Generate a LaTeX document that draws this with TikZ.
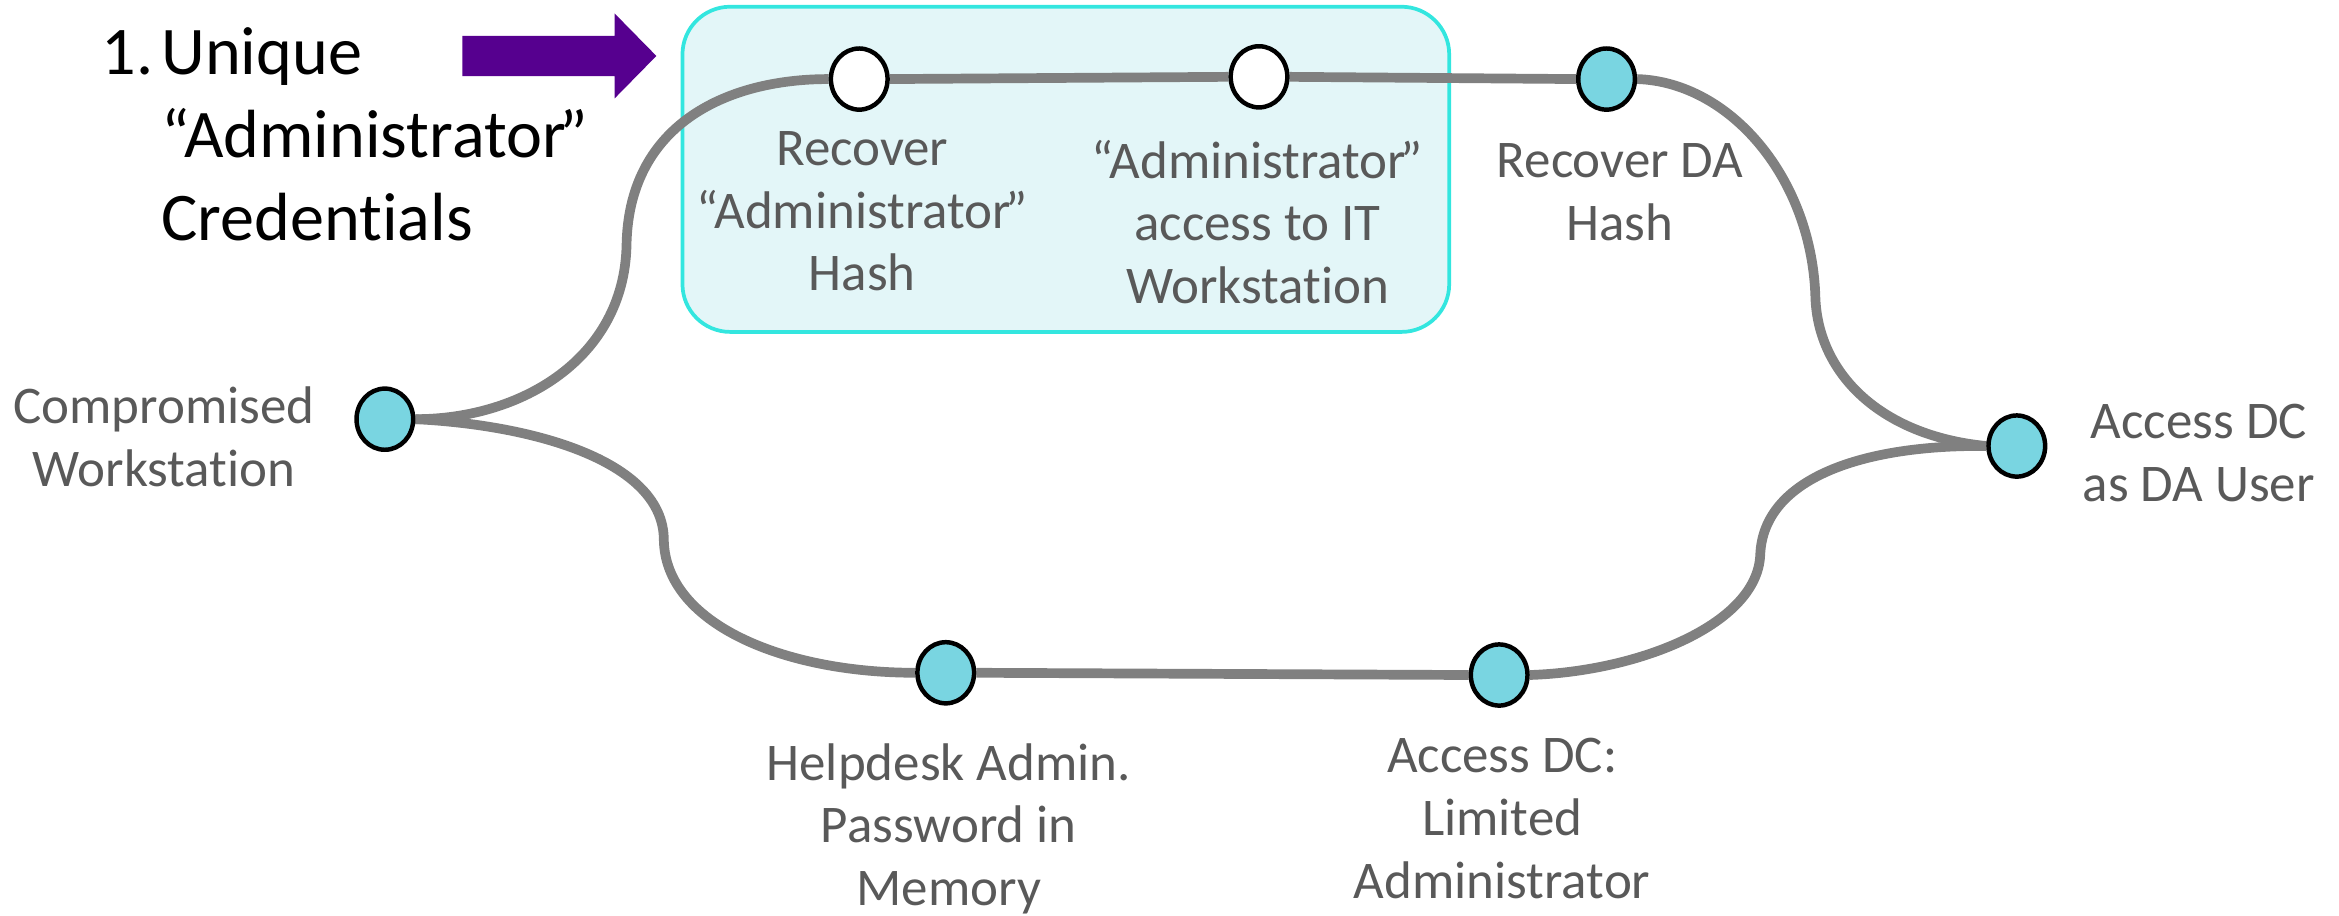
\documentclass[tikz,border=0pt]{standalone}
\usepackage{fontspec}
\setmainfont{Carlito}[Ligatures=NoCommon]
\usetikzlibrary{shapes.geometric}
\definecolor{pathgray}{HTML}{808080}
\definecolor{labelgray}{HTML}{595959}
\definecolor{stepfill}{HTML}{79D5E1}
\definecolor{boxfill}{HTML}{E3F6F8}
\definecolor{boxline}{HTML}{33E6DF}
\definecolor{pointer}{HTML}{56008F}
\pgfdeclarelayer{panel}
\pgfdeclarelayer{routes}
\pgfsetlayers{panel,routes,main}
% closing quote set tight against the word
\newcommand{\closeq}{\kern-0.1em”}
\tikzset{
  stepdot/.style={ellipse, draw=black, line width=3pt, fill=stepfill,
    minimum width=38pt, minimum height=41pt, inner sep=0pt},
  opendot/.style={stepdot, fill=white},
  route/.style={draw=pathgray, line width=6.5pt},
  steplabel/.style={font=\fontsize{35.5}{42}\selectfont, text=labelgray,
    align=center, anchor=base, inner sep=0pt},
  notelabel/.style={font=\fontsize{45.7}{55.5}\selectfont, text=black,
    align=left, anchor=base west, inner sep=0pt},
  groupbox/.style={fill=boxfill, draw=boxline, line width=2.5pt, rounded corners=32pt},
}
\begin{document}
\begin{tikzpicture}[x=1pt, y=-1pt]
\useasboundingbox (0,0) rectangle (1568,614);

% attack steps
\node[stepdot] (cw)  at (258,281) {};
\node[opendot] (rah) at (576,53) {};
\node[opendot] (aaw) at (844,51.5) {};
\node[stepdot] (rda) at (1077,53) {};
\node[stepdot] (dau) at (1352,299) {};
\node[stepdot] (hpm) at (634,451) {};
\node[stepdot] (dcl) at (1005,452.5) {};

% highlighted group of steps
\begin{pgfonlayer}{panel}
\draw[groupbox] (457.5,4.5) rectangle (971.5,222.5);
\end{pgfonlayer}

% routes between the steps
\begin{pgfonlayer}{routes}
\path[route] (cw.east) .. controls (350,281) and (418,240) .. (420,165)
  .. controls (421,85) and (485,53) .. (rah.west);
\path[route] (rah.east) -- (aaw.west);
\path[route] (aaw.east) -- (rda.west);
\path[route] (rda.east) .. controls (1160,55) and (1215,120) .. (1217,200)
  .. controls (1219,250) and (1260,292) .. (dau.west);
\path[route] (cw.east) .. controls (360,285) and (445,310) .. (445,362)
  .. controls (446,418) and (525,451) .. (hpm.west);
\path[route] (hpm.east) -- (dcl.west);
\path[route] (dcl.east) .. controls (1100,450) and (1178,418) .. (1180,372)
  .. controls (1182,320) and (1250,298) .. (dau.west);
\end{pgfonlayer}

% step labels (placed by the baseline of their last line)
\node[steplabel] (cwl)  at (110,326)   {Compromised\\Workstation};
\node[steplabel] (rahl) at (578,195)   {Recover\\“Administrator\closeq\\Hash};
\node[steplabel] (aawl) at (843,203.5) {“Administrator\closeq\\access to IT\\Workstation};
\node[steplabel] (rdal) at (1086,161)  {Recover DA\\Hash};
\node[steplabel] (daul) at (1474,336)  {Access DC\\as DA User};
\node[steplabel] (hpml) at (636,607)   {Helpdesk Admin.\\Password in\\Memory};
\node[steplabel] (dcll) at (1007,602)  {Access DC:\\Limited\\Administrator};

% numbered note and its pointer
\node[notelabel] (num)  at (68,50)   {1.};
\node[notelabel] (note) at (108,161) {Unique\\“Administrator\closeq\\Credentials};
\fill[pointer] (310,24) -- (412,24) -- (412,9) -- (440,37.5) -- (412,66)
  -- (412,51) -- (310,51) -- cycle;
\end{tikzpicture}
\end{document}
